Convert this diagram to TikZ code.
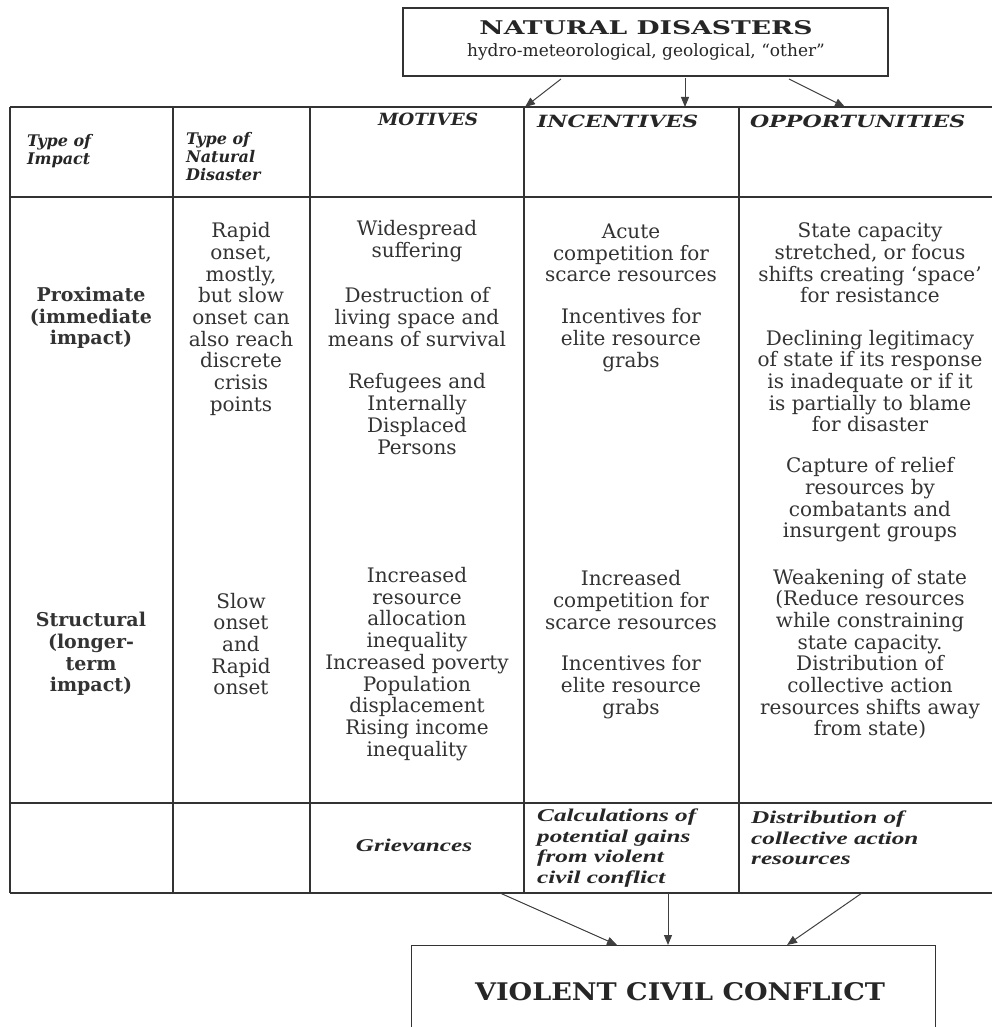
\documentclass[tikz,border=0pt]{standalone}
\usepackage{fontspec}
\usepackage{graphicx}
\setmainfont{DejaVu Serif}
\newfontfamily\rowfont{Liberation Serif}[FakeStretch=1.4]
\usetikzlibrary{arrows.meta}
\begin{document}
\begin{tikzpicture}[x=1pt,y=-1pt,
  grid/.style={line width=1.4pt, draw=black!80},
  arr/.style={line width=1pt, draw=black!75, -{Triangle[length=10pt,width=8pt]}},
  body/.style={font=\fontsize{20}{21.7}\selectfont, align=center, text=black!80, inner sep=0pt},
  bodyb/.style={body, font=\fontsize{19}{21.7}\selectfont\bfseries},
  hdr/.style={font=\fontsize{16}{18}\selectfont\bfseries\itshape, align=left, inner sep=0pt, anchor=west, text=black!85},
  caph/.style={font=\fontsize{17}{17}\selectfont\bfseries\itshape, inner sep=0pt, text=black!85},
  rowt/.style={font=\rowfont\fontsize{18}{20.6}\selectfont\bfseries\itshape, align=left, inner sep=0pt, anchor=west, text=black!85},
  box/.style={draw=black!80, line width=1.2pt, inner sep=0pt}
]
\useasboundingbox (0,0) rectangle (992,1027);
\fill[white] (0,0) rectangle (992,1027);

% top box
\node[box, minimum width=485pt, minimum height=68pt] (nd) at (645.5,42) {};
\node[inner sep=0pt, text=black!85] (ndt) at (646,28) {\resizebox{333pt}{14pt}{\bfseries NATURAL DISASTERS}};
\node[inner sep=0pt, font=\fontsize{17}{17}\selectfont, text=black!85] (nds) at (646,52) {hydro-meteorological, geological, “other”};

% arrows from top box
\coordinate (a1s) at (561,79); \coordinate (a1e) at (525,107);
\coordinate (a2s) at (685,78); \coordinate (a2e) at (685,107);
\coordinate (a3s) at (789,79); \coordinate (a3e) at (845,107);
\draw[arr] (a1s) -- (a1e);
\draw[arr] (a2s) -- (a2e);
\draw[arr] (a3s) -- (a3e);

% table grid
\draw[grid] (10,107) -- (992,107);
\draw[grid] (10,197) -- (992,197);
\draw[grid] (10,803) -- (992,803);
\draw[grid] (10,893) -- (992,893);
\foreach \xx in {10,173,310,524,739} {\draw[grid] (\xx,107) -- (\xx,893);}

% header
\node[hdr] (h1) at (27,151) {Type of\\Impact};
\node[hdr] (h2) at (186,157) {Type of\\Natural\\Disaster};
\node[caph] (h3) at (428,119) {\resizebox{100pt}{12.5pt}{MOTIVES}};
\node[caph, anchor=west] (h4) at (537,121) {\resizebox{161pt}{12.5pt}{INCENTIVES}};
\node[caph, anchor=west] (h5) at (750,121) {\resizebox{215pt}{12.5pt}{OPPORTUNITIES}};

% proximate row
\node[bodyb] (p1) at (91,318) {Proximate\\(immediate\\impact)};
\node[body] (p2) at (241,319) {Rapid\\onset,\\mostly,\\but slow\\onset can\\also reach\\discrete\\crisis\\points};
\node[body] (p3a) at (417,241) {Widespread\\suffering};
\node[body] (p3b) at (417,317) {Destruction of\\living space and\\means of survival};
\node[body] (p3c) at (417,414) {Refugees and\\Internally\\Displaced\\Persons};
\node[body] (p4a) at (631,253) {Acute\\competition for\\scarce resources};
\node[body] (p4b) at (631,340) {Incentives for\\elite resource\\grabs};
\node[body] (p5a) at (870,263) {State capacity\\stretched, or focus\\shifts creating ‘space’\\for resistance};
\node[body] (p5b) at (870,381) {Declining legitimacy\\of state if its response\\is inadequate or if it\\is partially to blame\\for disaster};
\node[body] (p5c) at (870,500) {Capture of relief\\resources by\\combatants and\\insurgent groups};
\node[body] (p5d) at (870,654) {Weakening of state\\(Reduce resources\\while constraining\\state capacity.\\Distribution of\\collective action\\resources shifts away\\from state)};

% structural row
\node[bodyb] (s1) at (91,654) {Structural\\(longer-\\term\\impact)};
\node[body] (s2) at (241,644) {Slow\\onset\\and\\Rapid\\onset};
\node[body] (s3) at (417,664) {Increased\\resource\\allocation\\inequality\\Increased poverty\\Population\\displacement\\Rising income\\inequality};
\node[body] (s4a) at (631,600) {Increased\\competition for\\scarce resources};
\node[body] (s4b) at (631,687) {Incentives for\\elite resource\\grabs};

% bottom row
\node[rowt, anchor=center] (b3) at (414,845) {Grievances};
\node[rowt] (b4) at (537,848) {Calculations of\\potential gains\\from violent\\civil conflict};
\node[rowt] (b5) at (751,838) {Distribution of\\collective action\\resources};

% bottom box
\node[box, minimum width=524pt, minimum height=120pt, anchor=north west] (vcc) at (411,945) {};
\node[inner sep=0pt, text=black!85] (vcct) at (680,992) {\resizebox{410pt}{18pt}{\bfseries VIOLENT CIVIL CONFLICT}};

% arrows into bottom box
\coordinate (b1s) at (500,893); \coordinate (b1e) at (617,945);
\coordinate (b2s) at (668,893); \coordinate (b2e) at (668,945);
\coordinate (b3s) at (862,893); \coordinate (b3e) at (787,945);
\draw[arr] (b1s) -- (b1e);
\draw[arr] (b2s) -- (b2e);
\draw[arr] (b3s) -- (b3e);
\end{tikzpicture}
\end{document}
